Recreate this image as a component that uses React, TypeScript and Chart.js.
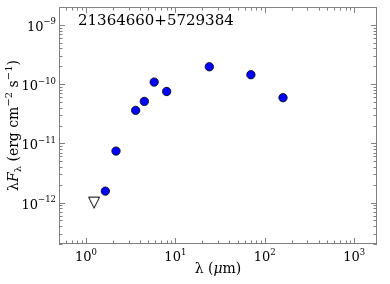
import { useEffect, useRef } from 'react';
import { Chart, registerables } from 'chart.js';

Chart.register(...registerables);

// ---- data ----
const wavelengths = [1.65, 2.17, 3.6, 4.5, 5.8, 8.0, 24, 70, 160];
const fluxes = [1.56e-12, 7.4e-12, 3.6e-11, 5.1e-11, 1.08e-10, 7.5e-11, 1.96e-10, 1.44e-10, 5.9e-11];
const limitWavelengths = [1.235];
const limitFluxes = [1.0e-12];
const xTickValues = [1, 10, 100, 1000];
const yTickValues = [1e-12, 1e-11, 1e-10, 1e-9];
const objectName = '21364660+5729384';
const xRange = [0.5, 1800];
const yRange = [2e-13, 2e-9];

const SERIF = "'DejaVu Serif', serif";
const FRAME = '#808080';
const BASE_FONT = `13px ${SERIF}`;
const EXP_FONT = `8.5px ${SERIF}`;

const expText = (v: number) => String(Math.round(Math.log10(v))).replace('-', '\u2212');

type Piece = { t: string; font: string; dy: number };

function piecesWidth(ctx: CanvasRenderingContext2D, pieces: Piece[]) {
  let total = 0;
  for (const p of pieces) {
    ctx.font = p.font;
    total += ctx.measureText(p.t).width;
  }
  return total;
}

function drawPiecesAt(ctx: CanvasRenderingContext2D, pieces: Piece[], x0: number, y0: number) {
  let x = x0;
  for (const p of pieces) {
    ctx.font = p.font;
    ctx.fillText(p.t, x, y0 + p.dy);
    x += ctx.measureText(p.t).width;
  }
}

function drawPiecesCentered(ctx: CanvasRenderingContext2D, pieces: Piece[]) {
  drawPiecesAt(ctx, pieces, -piecesWidth(ctx, pieces) / 2, 0);
}

const powPieces = (v: number): Piece[] => [
  { t: '10', font: BASE_FONT, dy: 0 },
  { t: expText(v), font: EXP_FONT, dy: -6.5 },
];

function minorValues(min: number, max: number) {
  const out: number[] = [];
  for (let e = Math.floor(Math.log10(min)); e <= Math.ceil(Math.log10(max)); e++) {
    for (let m = 1; m <= 9; m++) {
      const v = m * Math.pow(10, e);
      if (v >= min && v <= max) out.push(v);
    }
  }
  return out;
}

const decorPlugin = {
  id: 'decor',
  afterDatasetsDraw(chart: any) {
    const { ctx, chartArea, scales } = chart;
    const { left, right, top, bottom } = chartArea;
    const xs = scales.x;
    const ys = scales.y;
    ctx.save();
    ctx.strokeStyle = FRAME;
    ctx.lineWidth = 1;
    ctx.strokeRect(left + 0.5, top + 0.5, right - left - 1, bottom - top - 1);
    ctx.beginPath();
    for (const v of minorValues(xRange[0], xRange[1])) {
      const major = xTickValues.includes(v);
      const len = major ? 6 : 3.5;
      const px = Math.round(xs.getPixelForValue(v)) + 0.5;
      ctx.moveTo(px, bottom);
      ctx.lineTo(px, bottom - len);
      ctx.moveTo(px, top);
      ctx.lineTo(px, top + len);
    }
    for (const v of minorValues(yRange[0], yRange[1])) {
      const major = yTickValues.some((t) => Math.abs(t - v) / t < 1e-6);
      const len = major ? 6 : 3.5;
      const py = Math.round(ys.getPixelForValue(v)) + 0.5;
      ctx.moveTo(left, py);
      ctx.lineTo(left + len, py);
      ctx.moveTo(right, py);
      ctx.lineTo(right - len, py);
    }
    ctx.stroke();

    ctx.fillStyle = '#000';
    ctx.textBaseline = 'alphabetic';
    ctx.textAlign = 'left';

    // x tick labels
    for (const v of xTickValues) {
      const p = powPieces(v);
      const w = piecesWidth(ctx, p);
      drawPiecesAt(ctx, p, xs.getPixelForValue(v) - w / 2, bottom + 17);
    }
    // y tick labels
    for (const v of yTickValues) {
      const p = powPieces(v);
      const w = piecesWidth(ctx, p);
      drawPiecesAt(ctx, p, left - 3 - w, ys.getPixelForValue(v) + 6);
    }

    // object name
    ctx.font = `15px ${SERIF}`;
    ctx.fillText(objectName, left + 19, top + 18);

    // x title
    ctx.save();
    ctx.translate((left + right) / 2, 273);
    drawPiecesCentered(ctx, [
      { t: 'λ (', font: `14px ${SERIF}`, dy: 0 },
      { t: 'μ', font: `italic 14px ${SERIF}`, dy: 0 },
      { t: 'm)', font: `14px ${SERIF}`, dy: 0 },
    ]);
    ctx.restore();

    // y title
    ctx.save();
    ctx.translate(18, (top + bottom) / 2);
    ctx.rotate(-Math.PI / 2);
    drawPiecesCentered(ctx, [
      { t: 'λ', font: `14px ${SERIF}`, dy: 0 },
      { t: 'F', font: `italic 14px ${SERIF}`, dy: 0 },
      { t: 'λ', font: `10px ${SERIF}`, dy: 3 },
      { t: ' (erg cm', font: `14px ${SERIF}`, dy: 0 },
      { t: '−2', font: `10px ${SERIF}`, dy: -6 },
      { t: ' s', font: `14px ${SERIF}`, dy: 0 },
      { t: '−1', font: `10px ${SERIF}`, dy: -6 },
      { t: ')', font: `14px ${SERIF}`, dy: 0 },
    ]);
    ctx.restore();
    ctx.restore();
  },
};

function makeTriangle() {
  const c = document.createElement('canvas');
  c.width = 14;
  c.height = 14;
  const g = c.getContext('2d')!;
  g.beginPath();
  g.moveTo(1.5, 1.5);
  g.lineTo(12.5, 1.5);
  g.lineTo(7, 12.5);
  g.closePath();
  g.fillStyle = '#fff';
  g.fill();
  g.strokeStyle = '#000';
  g.lineWidth = 1;
  g.stroke();
  return c;
}

export default function App() {
  const ref = useRef<HTMLCanvasElement | null>(null);
  useEffect(() => {
    if (!ref.current) return;
    const tri = makeTriangle();
    const chart = new Chart(ref.current, {
      type: 'scatter',
      data: {
        datasets: [
          {
            label: 'detections',
            data: wavelengths.map((x, i) => ({ x, y: fluxes[i] })),
            pointStyle: 'circle',
            pointRadius: 4.2,
            pointBackgroundColor: '#0000ff',
            pointBorderColor: '#000',
            pointBorderWidth: 0.8,
          },
          {
            label: 'upper limits',
            data: limitWavelengths.map((x, i) => ({ x, y: limitFluxes[i] })),
            pointStyle: tri as any,
            pointRadius: 6,
          },
        ],
      },
      options: {
        responsive: false,
        animation: false,
        layout: { padding: { top: 5, right: 13, left: 59, bottom: 40 } },
        plugins: { legend: { display: false }, tooltip: { enabled: false } },
        scales: {
          x: {
            type: 'logarithmic',
            position: 'bottom',
            min: xRange[0],
            max: xRange[1],
            display: false,
          },
          y: {
            type: 'logarithmic',
            position: 'left',
            min: yRange[0],
            max: yRange[1],
            display: false,
          },
        },
      },
      plugins: [decorPlugin],
    });
    return () => chart.destroy();
  }, []);
  return (
    <div style={{ position: 'absolute', left: 0, top: 0, width: 390, height: 284, background: '#fff' }}>
      <canvas ref={ref} width={390} height={284} style={{ display: 'block' }} />
    </div>
  );
}
